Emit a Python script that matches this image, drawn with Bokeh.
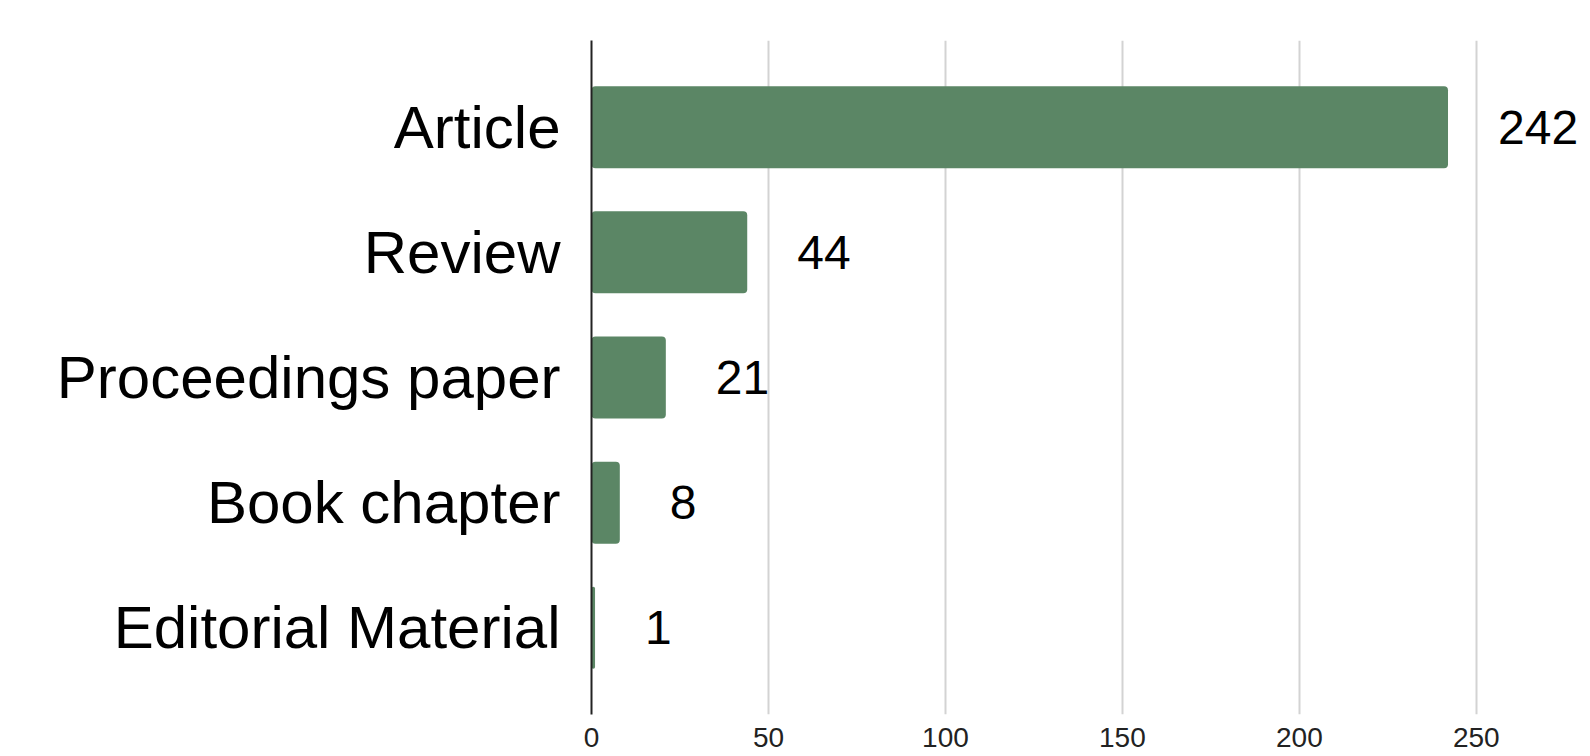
from bokeh.plotting import figure
from bokeh.models import ColumnDataSource, FactorRange, Range1d, FixedTicker, LabelSet
from bokeh.core.properties import value
from bokeh.embed import file_html
from bokeh.resources import INLINE

categories = ["Article", "Review", "Proceedings paper", "Book chapter", "Editorial Material"]
counts = [242, 44, 21, 8, 1]
x_ticks = [0, 50, 100, 150, 200, 250]

labels = [str(c) for c in counts]
src = ColumnDataSource(dict(cat=categories, val=counts, lab=labels))

p = figure(
    width=1582, height=756,
    y_range=FactorRange(factors=list(reversed(categories)), range_padding=0.077),
    x_range=Range1d(0, 280),
    output_backend="svg", toolbar_location=None,
    min_border_left=591, min_border_top=40, min_border_bottom=42, min_border_right=0,
)
p.outline_line_color = None
p.background_fill_color = "white"
p.border_fill_color = "white"

p.hbar(y="cat", right="val", left=0, height=0.655, source=src,
       fill_color="#5B8665", line_color=None, border_radius=4)

lbl = LabelSet(x="val", y="cat", text="lab", source=src, x_offset=50,
               text_baseline="middle", text_align="left",
               text_font=value("Liberation Sans"), text_font_size="48px", text_color="#000000")
p.add_layout(lbl)

p.xaxis.ticker = FixedTicker(ticks=x_ticks)
p.xaxis.axis_line_color = None
p.xaxis.major_tick_line_color = None
p.xaxis.minor_tick_line_color = None
p.xaxis.major_tick_in = 0
p.xaxis.major_tick_out = 0
p.xaxis.major_label_standoff = 13
p.xaxis.major_label_text_font = "Liberation Sans"
p.xaxis.major_label_text_font_size = "28px"
p.xaxis.major_label_text_color = "#222222"

p.yaxis.axis_line_color = "#222222"
p.yaxis.axis_line_width = 2
p.yaxis.major_tick_line_color = None
p.yaxis.minor_tick_line_color = None
p.yaxis.major_tick_in = 0
p.yaxis.major_tick_out = 0
p.yaxis.major_label_standoff = 31
p.yaxis.major_label_text_font = "Liberation Sans"
p.yaxis.major_label_text_font_size = "60px"
p.yaxis.major_label_text_color = "#000000"

p.xgrid.ticker = FixedTicker(ticks=x_ticks)
p.xgrid.grid_line_color = "#d3d3d3"
p.xgrid.grid_line_width = 2
p.ygrid.grid_line_color = None

open("out.html", "w").write(file_html(p, INLINE))
